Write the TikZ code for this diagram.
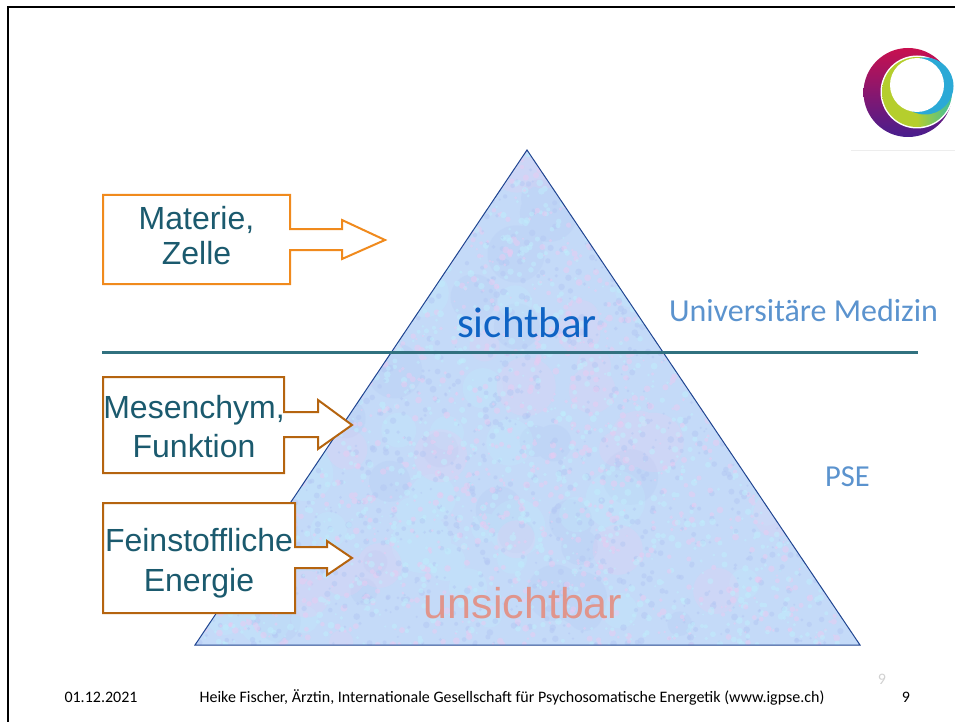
\documentclass[tikz,border=0pt]{standalone}
\usepackage{fontspec}
\setmainfont{Carlito}
\newfontfamily\arialfont{Liberation Sans}
\definecolor{tealtext}{HTML}{1B5A6E}
\definecolor{tealline}{HTML}{31717F}
\definecolor{lightorange}{HTML}{F08A1D}
\definecolor{darkorange}{HTML}{B5640F}
\definecolor{softblue}{HTML}{5B93CE}
\definecolor{triline}{HTML}{1F4490}
\definecolor{trifill}{HTML}{C4DAF8}
\definecolor{speckpink}{HTML}{EACBF2}
\definecolor{speckcyan}{HTML}{C0EEFC}
\definecolor{speckblue}{HTML}{B4C8F4}
\definecolor{sightblue}{HTML}{0E63C4}
\definecolor{unsightred}{HTML}{E0958C}
\definecolor{logored}{HTML}{C8104F}
\definecolor{logoviolet}{HTML}{481E8E}
\definecolor{logolime}{HTML}{B5CE2D}
\definecolor{logoteal}{HTML}{3DBE9E}
\definecolor{logoblue}{HTML}{2BA9D6}
\tikzset{
  boxtext/.style={align=center,text=tealtext,font=\arialfont\fontsize{32}{39}\selectfont},
  callout/.style={fill=white,line width=2pt,line join=miter},
  footer/.style={text=black,font=\fontsize{16}{19}\selectfont},
}
\begin{document}
\begin{tikzpicture}[x=1pt,y=-1pt]
    \useasboundingbox (0,0) rectangle (955,722);

    % Rahmen
    \draw[line width=2pt] (8,722) -- (8,7) -- (955,7);

    % Logo
    \shade[top color=logored,bottom color=logoviolet] (908,92.5) circle (44.5);
    \fill[white] (917,92) circle (36.5);
    \shade[left color=logolime,right color=logoteal,middle color=logolime] (917,92) circle (35);
    \fill[logoblue] (925,86) circle (28.5);
    \fill[white] (917,85) circle (27);
    \draw[black!7] (851,150) -- (955,150);

    % Pyramide
    \coordinate (top) at (527,150);
    \coordinate (left) at (195,645);
    \coordinate (right) at (860,645);
    \begin{scope}
      \clip (top) -- (left) -- (right) -- cycle;
      \fill[trifill] (top) -- (left) -- (right) -- cycle;
      \pgfmathsetseed{9}
      \foreach \pcol in {speckblue,speckcyan,speckpink} {
        \fill[\pcol,opacity=0.25] \foreach \i in {1,...,45} { ({195+665*rnd},{150+495*rnd}) circle ({12+18*rnd}) };
      }
      \foreach \round in {1,2,3} {
        \foreach \pcol in {speckblue,speckpink,speckcyan} {
          \fill[\pcol,opacity=0.5] \foreach \i in {1,...,550} { ({195+665*rnd},{150+495*rnd}) circle ({1+2.5*rnd}) };
        }
      }
    \end{scope}
    \draw[triline,line width=1pt,line join=miter] (top) -- (left) -- (right) -- cycle;

    % Trennlinie
    \coordinate (lineleft) at (102,352);
    \coordinate (lineright) at (918,352);
    \draw[tealline,line width=3pt] (lineleft) -- (lineright);

    % Pfeilkästen
    \draw[callout,draw=lightorange] (103,195) -- (290,195) -- (290,229) -- (342,229) -- (342,220)
      -- (385,240) -- (342,259) -- (342,250) -- (290,250) -- (290,284) -- (103,284) -- cycle;
    \draw[callout,draw=darkorange] (103,377) -- (284,377) -- (284,412) -- (318,412) -- (318,400)
      -- (352,425) -- (318,449) -- (318,437) -- (284,437) -- (284,473) -- (103,473) -- cycle;
    \draw[callout,draw=darkorange] (103,503) -- (295,503) -- (295,547) -- (327,547) -- (327,541)
      -- (352,558) -- (327,575) -- (327,568) -- (295,568) -- (295,613) -- (103,613) -- cycle;

    % Beschriftung
    \node (materie) [boxtext,font=\arialfont\fontsize{32}{34.5}\selectfont] at (196.5,235.5) {Materie,\\Zelle};
    \node (mesenchym) [boxtext] at (194,426.5) {Mesenchym,\\Funktion};
    \node (feinstoff) [boxtext,font=\arialfont\fontsize{32}{40}\selectfont] at (199,563) {Feinstoffliche\\Energie};
    \node (sichtbar) [text=sightblue,font=\fontsize{43}{50}\selectfont] at (527,323) {sichtbar};
    \node (unsichtbar) [text=unsightred,font=\arialfont\fontsize{43}{50}\selectfont] at (523,603) {unsichtbar};
    \node (medizin) [text=softblue,font=\fontsize{32}{38}\selectfont] at (803.5,311) {Universitäre Medizin};
    \node (pse) [text=softblue,font=\fontsize{30.5}{36}\selectfont] at (847.5,477) {PSE};

    % Fußzeile
    \node (datum) [footer] at (101,697) {01.12.2021};
    \node (autorin) [footer] at (512,697) {Heike Fischer, Ärztin, Internationale Gesellschaft für Psychosomatische Energetik (www.igpse.ch)};
    \node (seite) [footer] at (906,697) {9};
    \node (seitegrau) [text=black!18,font=\fontsize{16}{19}\selectfont] at (882,679) {9};
\end{tikzpicture}
\end{document}
